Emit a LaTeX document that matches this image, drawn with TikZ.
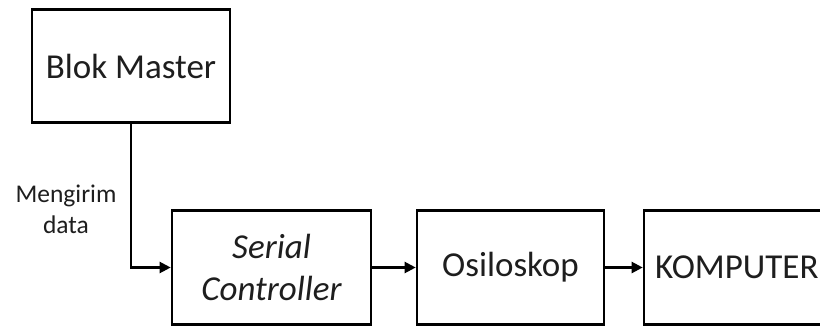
\documentclass[tikz,border=0pt]{standalone}
\usepackage{fontspec}
\setmainfont{Carlito}
\usetikzlibrary{arrows.meta}
\definecolor{txt}{HTML}{1E1E1E}
\tikzset{
  box/.style={draw=black, line width=2.6pt, fill=white, inner sep=0pt, text=txt,
    font=\fontsize{35}{42}\selectfont, align=center},
  conn/.style={draw=black, line width=2.2pt, -{Triangle[length=11pt,width=11pt]}},
  lbl/.style={text=txt, font=\fontsize{25.5}{31}\selectfont, align=center, inner sep=0pt}
}
\begin{document}
\begin{tikzpicture}[x=1pt,y=-1pt]
\useasboundingbox (0,0) rectangle (820,327);
\clip (0,0) rectangle (820,327);
\node[box, minimum width=198pt, minimum height=113pt] (master) at (131,66) {Blok Master};
\node[box, minimum width=199pt, minimum height=114pt] (serial) at (271.5,267.5) {\itshape Serial\\\itshape Controller};
\node[box, minimum width=187pt, minimum height=114pt] (osc) at (510.5,267.5) {Osiloskop};
\node[box, minimum width=210pt, minimum height=114pt] (komp) at (749,267.5) {};
\node[text=txt, font=\fontsize{35}{42}\selectfont, anchor=west, inner sep=0pt] (kompt) at (655,267.5) {KOMPUTER};
\node[lbl] (lab) at (66,209) {Mengirim\\data};
\draw[conn] (master.south) |- (serial.west);
\draw[conn] (serial.east) -- (osc.west);
\draw[conn] (osc.east) -- (komp.west);
\end{tikzpicture}
\end{document}
